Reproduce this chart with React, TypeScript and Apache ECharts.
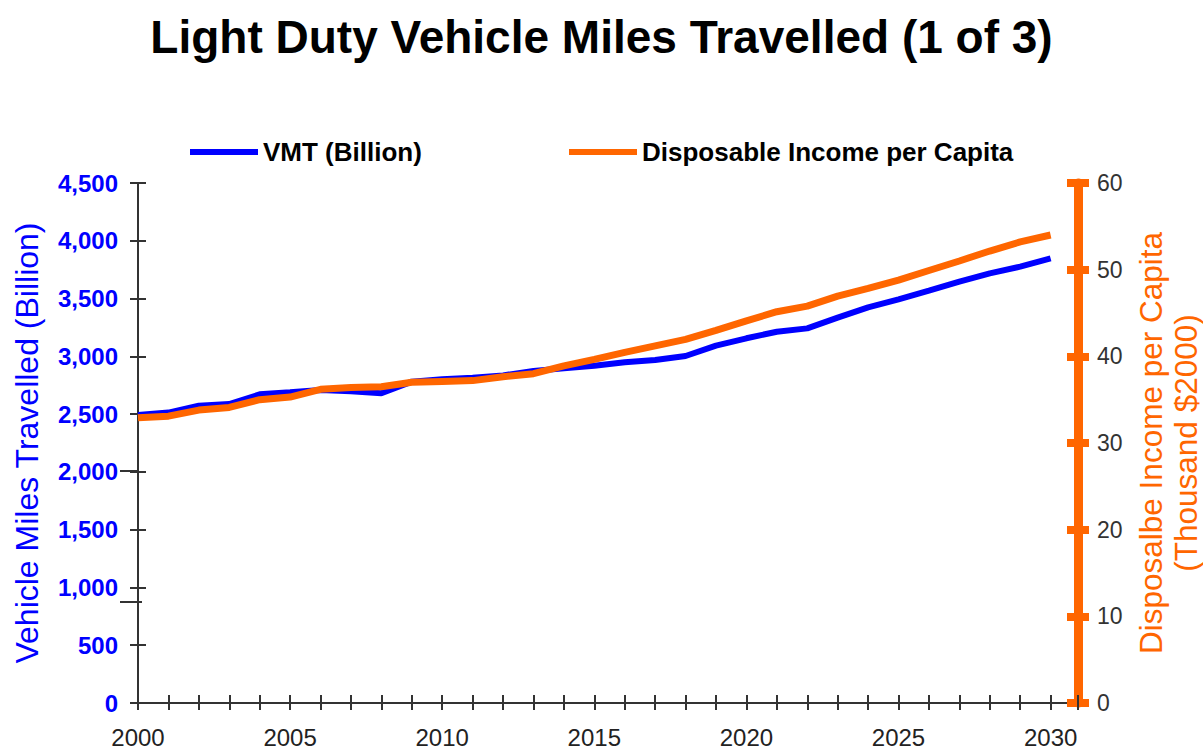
import React, { useEffect, useRef } from 'react';
import * as echarts from 'echarts';

const years: number[] = [
  2000, 2001, 2002, 2003, 2004, 2005, 2006, 2007, 2008, 2009, 2010,
  2011, 2012, 2013, 2014, 2015, 2016, 2017, 2018, 2019, 2020,
  2021, 2022, 2023, 2024, 2025, 2026, 2027, 2028, 2029, 2030,
];

const vmtBillion: number[] = [
  2492, 2513, 2573, 2587, 2671, 2689, 2709, 2697, 2680, 2781, 2801,
  2815, 2835, 2873, 2896, 2919, 2948, 2968, 3003, 3092, 3156,
  3213, 3242, 3335, 3424, 3493, 3568, 3646, 3718, 3776, 3848,
];

const incomeThousand: number[] = [
  32.9, 33.1, 33.8, 34.1, 35.0, 35.3, 36.2, 36.4, 36.5, 37.0, 37.1,
  37.2, 37.65, 38.0, 38.9, 39.65, 40.45, 41.2, 41.95, 43.0, 44.1,
  45.15, 45.8, 46.95, 47.85, 48.8, 49.9, 51.0, 52.15, 53.2, 54.0,
];

const titleText = 'Light Duty Vehicle Miles Travelled (1 of 3)';
const vmtName = 'VMT (Billion)';
const incomeName = 'Disposable Income per Capita';
const leftAxisName = 'Vehicle Miles Travelled (Billion)';
const rightAxisName = 'Disposalbe Income per Capita\n(Thousand $2000)';

const FONT = '"Liberation Sans", Arial, sans-serif';
const BLUE = '#0000ff';
const ORANGE = '#ff6600';
const AXIS = '#333333';

export default function App() {
  const ref = useRef<HTMLDivElement>(null);

  useEffect(() => {
    if (!ref.current) return;
    const chart = echarts.init(ref.current, null, { renderer: 'svg' });

    const xBase = {
      type: 'value' as const,
      position: 'bottom' as const,
      min: 2000,
      max: 2030.9,
      interval: 1,
      splitLine: { show: false },
      axisLine: { show: true, lineStyle: { color: AXIS, width: 2 } },
    };

    const legendText = { fontFamily: FONT, fontSize: 26, fontWeight: 'bold', color: '#000' };

    const option: any = {
      animation: false,
      backgroundColor: '#ffffff',
      title: {
        text: titleText,
        left: 'center',
        top: 9,
        textStyle: { fontFamily: FONT, fontSize: 46, fontWeight: 'bold', color: '#000' },
      },
      legend: [
        {
          data: [vmtName],
          left: 190,
          top: 139,
          padding: 0,
          icon: 'rect',
          itemWidth: 68,
          itemHeight: 6,
          textStyle: legendText,
        },
        {
          data: [incomeName],
          left: 569,
          top: 139,
          padding: 0,
          icon: 'rect',
          itemWidth: 68,
          itemHeight: 6,
          textStyle: legendText,
        },
      ],
      grid: {
        left: 138,
        right: 125,
        top: 183,
        bottom: 49,
        containLabel: false,
        outerBoundsMode: 'none',
      },
      xAxis: [
        {
          ...xBase,
          axisTick: { show: true, inside: false, length: 7, lineStyle: { color: AXIS, width: 2 } },
          axisLabel: {
            margin: 22,
            fontFamily: FONT,
            fontSize: 24,
            color: '#222',
            formatter: (v: number) => (Number.isInteger(v) && v % 5 === 0 ? String(v) : ''),
          },
        },
        {
          ...xBase,
          axisTick: { show: true, inside: true, length: 8, lineStyle: { color: AXIS, width: 2 } },
          axisLabel: { show: false },
        },
      ],
      yAxis: [
        {
          type: 'value',
          position: 'left',
          min: 0,
          max: 4500,
          interval: 500,
          splitLine: { show: false },
          axisLine: { show: true, lineStyle: { color: AXIS, width: 2 } },
          axisTick: { show: true, inside: false, length: 8, lineStyle: { color: AXIS, width: 2 } },
          axisLabel: {
            margin: 20,
            fontFamily: FONT,
            fontSize: 24,
            fontWeight: 'bold',
            color: BLUE,
            formatter: (v: number) => v.toLocaleString('en-US'),
          },
          name: leftAxisName,
          nameLocation: 'middle',
          nameGap: 95,
          nameTextStyle: { fontFamily: FONT, fontSize: 32, color: BLUE },
        },
        {
          type: 'value',
          position: 'right',
          min: 0,
          max: 60,
          interval: 10,
          splitLine: { show: false },
          axisLine: { show: true, lineStyle: { color: ORANGE, width: 9 } },
          axisTick: { show: true, inside: false, length: 11, lineStyle: { color: ORANGE, width: 8 } },
          axisLabel: {
            margin: 19,
            fontFamily: FONT,
            fontSize: 23,
            color: '#333',
          },
          name: rightAxisName,
          nameLocation: 'middle',
          nameGap: 53,
          nameTextStyle: { fontFamily: FONT, fontSize: 31.5, color: ORANGE, lineHeight: 35 },
        },
        {
          type: 'value',
          position: 'left',
          min: 0,
          max: 4500,
          interval: 500,
          splitLine: { show: false },
          axisLine: { show: false },
          axisTick: { show: true, inside: true, length: 8, lineStyle: { color: AXIS, width: 2 } },
          axisLabel: { show: false },
        },
        {
          type: 'value',
          position: 'right',
          min: 0,
          max: 60,
          interval: 10,
          splitLine: { show: false },
          axisLine: { show: false },
          axisTick: { show: true, inside: true, length: 11, lineStyle: { color: ORANGE, width: 8 } },
          axisLabel: { show: false },
        },
      ],
      graphic: [
        { type: 'line', shape: { x1: 120, y1: 471, x2: 138, y2: 471 }, style: { stroke: AXIS, lineWidth: 2 } },
        { type: 'line', shape: { x1: 120, y1: 602, x2: 142, y2: 602 }, style: { stroke: AXIS, lineWidth: 2 } },
      ],
      series: [
        {
          name: vmtName,
          type: 'line',
          xAxisIndex: 0,
          yAxisIndex: 0,
          data: years.map((y, i) => [y, vmtBillion[i]]),
          showSymbol: false,
          symbol: 'none',
          lineStyle: { color: BLUE, width: 6 },
          itemStyle: { color: BLUE },
          z: 3,
        },
        {
          name: incomeName,
          type: 'line',
          xAxisIndex: 0,
          yAxisIndex: 1,
          data: years.map((y, i) => [y, incomeThousand[i]]),
          showSymbol: false,
          symbol: 'none',
          lineStyle: { color: ORANGE, width: 7 },
          itemStyle: { color: ORANGE },
          z: 4,
        },
      ],
    };

    chart.setOption(option);
    return () => chart.dispose();
  }, []);

  return (
    <div
      ref={ref}
      style={{ position: 'absolute', left: 0, top: 0, width: 1203, height: 752 }}
    />
  );
}
